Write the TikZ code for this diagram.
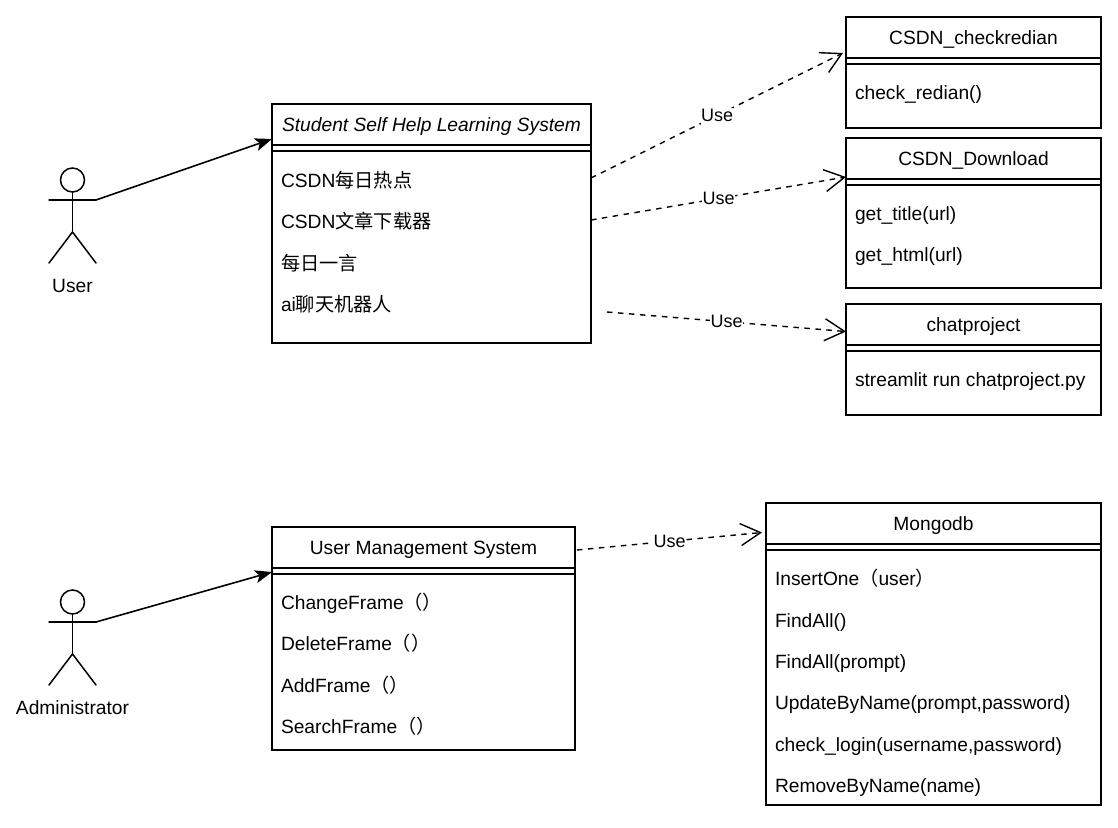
\documentclass[tikz,border=0pt]{standalone}
\usepackage{fontspec}
\setmainfont{Liberation Sans}
\newfontfamily\cjk{Noto Sans CJK SC}
\usetikzlibrary{arrows.meta,calc}
\tikzset{
  frame/.style={draw=black,line width=1.8pt,inner sep=0pt,outer sep=0pt,fill=white},
  header/.style={draw=black,line width=1.8pt,inner sep=0pt,outer sep=0pt,align=center,font=\fontsize{19.2}{22}\selectfont,text height=15.5pt,text depth=1.5pt},
  txt/.style={inner sep=0pt,outer sep=0pt,font=\fontsize{19.2}{22}\selectfont,text height=15.5pt,text depth=1.5pt},
  item/.style={txt,anchor=west},
  thin line/.style={draw=black,line width=1.4pt},
  actorline/.style={draw=black,line width=1.5pt,line cap=round},
  assoc/.style={draw=black,line width=1.6pt,-{Stealth[length=17pt,width=13pt,inset=4pt]}},
  uses/.style={draw=black,line width=1.4pt,dash pattern=on 5.5pt off 5.5pt,-{Straight Barb[length=20pt,width=22pt,line width=1.4pt]}},
  lab/.style={inner sep=0.5pt,outer sep=0pt,fill=white,font=\fontsize{18}{20}\selectfont,text height=13.5pt,text depth=1.5pt}
}
\newcommand\umlbox[6]{% name x1 y1 x2 y2 title
  \node[frame,minimum width={(#4-#2)*1pt},minimum height={(#5-#3)*1pt}] (#1) at ({(#2+#4)/2},{(#3+#5)/2}) {};
  \node[header,minimum width={(#4-#2)*1pt},minimum height=41pt] (h#1) at ({(#2+#4)/2},{#3+20.5}) {#6};
  \draw[thin line] ($(h#1.south west)+(0,6)$) -- ($(h#1.south east)+(0,6)$);
}
\newcommand\umlactor[4]{% name cx head-cy label
  \node[minimum width=47pt,minimum height=95pt,inner sep=0pt,outer sep=0pt] (#1) at (#2,{#3+35.5}) {};
  \draw[actorline] (#2,#3) circle (12);
  \draw[actorline] (#2,{#3+12}) -- (#2,{#3+52});
  \draw[actorline] ($(#1.north west)+(0,32)$) -- ($(#1.north east)+(0,32)$);
  \draw[actorline] ($(#1.south west)$) -- (#2,{#3+52}) -- ($(#1.south east)$);
  \node[txt] (#1label) at (#2,{#3+105}) {#4};
}
\begin{document}
\begin{tikzpicture}[x=1pt,y=-1pt]
\useasboundingbox (0,0) rectangle (1118,827);

\umlbox{student}{272}{104}{591}{343}{\itshape Student Self Help Learning System}
\node[item] (s1) at (281,180) {CSDN{\cjk 每日热点}};
\node[item] (s2) at (281,221) {CSDN{\cjk 文章下载器}};
\node[item] (s3) at (281,263) {{\cjk 每日一言}};
\node[item] (s4) at (281,304) {ai{\cjk 聊天机器人}};

\umlbox{check}{846}{17}{1101}{128}{CSDN\_checkredian}
\node[item] (c1) at (855,92) {check\_redian()};

\umlbox{download}{846}{138}{1101}{288}{CSDN\_Download}
\node[item] (d1) at (855,213) {get\_title(url)};
\node[item] (d2) at (855,254) {get\_html(url)};

\umlbox{chat}{846}{304}{1101}{415}{chatproject}
\node[item] (p1) at (855,379) {streamlit run chatproject.py};

\umlbox{manage}{272}{527}{575}{750}{User Management System}
\node[item] (m1) at (281,602) {ChangeFrame{\cjk （）}};
\node[item] (m2) at (281,643) {DeleteFrame{\cjk （）}};
\node[item] (m3) at (281,685) {AddFrame{\cjk （）}};
\node[item] (m4) at (281,726) {SearchFrame{\cjk （）}};

\umlbox{mongo}{766}{503}{1101}{805}{Mongodb}
\node[item] (g1) at (775,578) {InsertOne{\cjk （}user{\cjk ）}};
\node[item] (g2) at (775,620) {FindAll()};
\node[item] (g3) at (775,661) {FindAll(prompt)};
\node[item] (g4) at (775,702) {UpdateByName(prompt,password)};
\node[item] (g5) at (775,744) {check\_login(username,password)};
\node[item] (g6) at (775,785) {RemoveByName(name)};

\umlactor{user}{72.5}{180}{User}
\umlactor{admin}{72.5}{602}{Administrator}

\draw[assoc] ($(user.north east)+(0,32)$) -- ($(hstudent.south west)+(0,-6)$);
\draw[assoc] ($(admin.north east)+(0,32)$) -- ($(hmanage.south west)+(0,4)$);

\draw[uses] ($(student.north east)+(0,74)$) -- node[lab,pos=.5] (u1) {Use} ($(hcheck.south west)+(-3,-5)$);
\draw[uses] ($(student.north east)+(0,116)$) -- node[lab,pos=.5] (u2) {Use} ($(hdownload.south west)+(0,-2)$);
\draw[uses] ($(student.south east)+(16,-31)$) -- node[lab,pos=.5] (u3) {Use} ($(hchat.west)+(0,7)$);
\draw[uses] ($(manage.north east)+(2,23)$) -- node[lab,pos=.5] (u4) {Use} ($(hmongo.west)+(-4,9)$);
\end{tikzpicture}
\end{document}
